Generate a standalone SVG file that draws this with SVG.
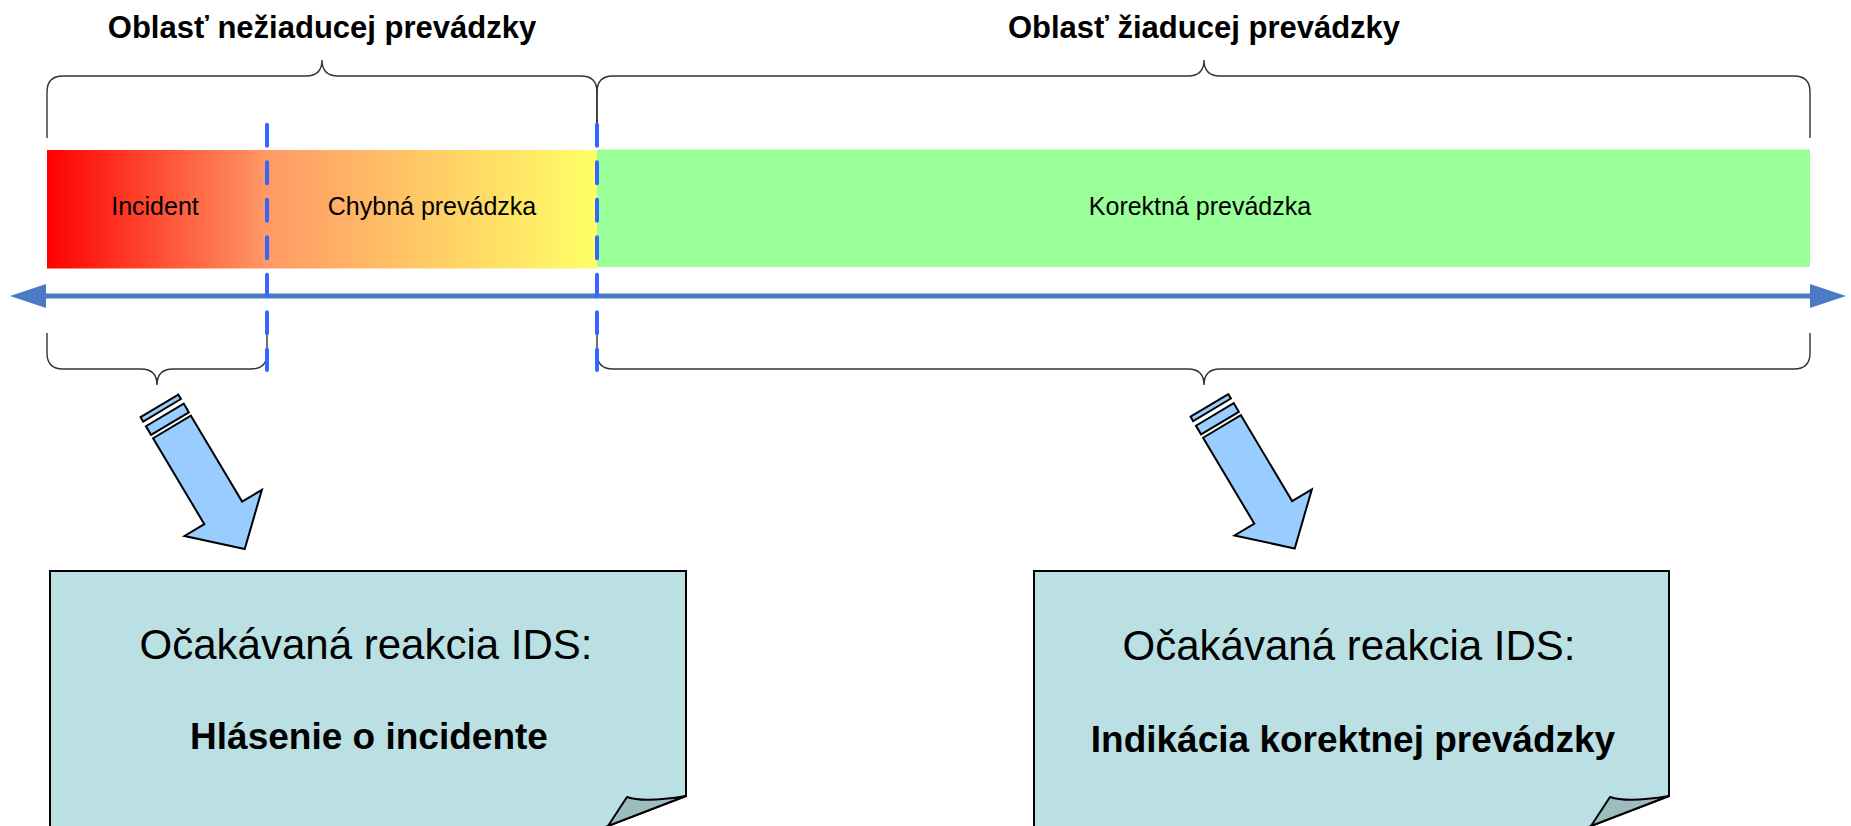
<svg xmlns="http://www.w3.org/2000/svg" width="1851" height="826" viewBox="0 0 1851 826">
<defs>
<linearGradient id="grad" x1="0" y1="0" x2="1" y2="0">
<stop offset="0" stop-color="#FF0000"/>
<stop offset="0.4" stop-color="#FF9966"/>
<stop offset="1" stop-color="#FFFF66"/>
</linearGradient>
<g id="bluearrow">
<rect x="-24.5" y="-22" width="5" height="44"/>
<rect x="-14" y="-22" width="10" height="44"/>
<polygon points="0,-22 100,-22 100,-45 142,0 100,45 100,22 0,22"/>
</g>
</defs>
<style>
.title{font-family:"Liberation Sans",Arial,sans-serif;font-weight:bold;font-size:31px;fill:#000;text-anchor:middle}
.band{font-family:"Liberation Sans",Arial,sans-serif;font-size:25px;fill:#000;text-anchor:middle}
.big{font-family:"Liberation Sans",Arial,sans-serif;font-size:42px;fill:#000;text-anchor:middle}
.bigb{font-family:"Liberation Sans",Arial,sans-serif;font-weight:bold;font-size:37px;fill:#000;text-anchor:middle}
.brace{fill:none;stroke:#333;stroke-width:1.4}
.dash{stroke:#3366FF;stroke-width:4;stroke-linecap:round;stroke-dasharray:21 16.5}
.axis{stroke:#4A7BC4;stroke-width:5}
.axhead{fill:#4A7BC4}
.box{fill:#BBE0E3;stroke:#000;stroke-width:2;stroke-linejoin:miter}
.flap{fill:#9CBCBF;stroke:#000;stroke-width:2;stroke-linejoin:round}
.barrow{fill:#99CCFF;stroke:#000;stroke-width:2;stroke-linejoin:miter}
</style>
<rect width="1851" height="826" fill="#fff"/>

<g id="titles">
<text class="title" x="322" y="38">Oblasť nežiaducej prevádzky</text>
<text class="title" x="1204" y="38">Oblasť žiaducej prevádzky</text>
</g>

<g id="band-undesired">
<rect x="47" y="150" width="550" height="118.5" fill="url(#grad)"/>
<text class="band" x="155" y="215">Incident</text>
<text class="band" x="432" y="215">Chybná prevádzka</text>
</g>
<g id="band-desired">
<rect x="597" y="149.5" width="1213" height="117.5" fill="#99FF99"/>
<text class="band" x="1200" y="215">Korektná prevádzka</text>
</g>

<g id="braces">
<path class="brace" d="M47,138 V92 Q47,76 63,76 H306 Q322,76 322,60 Q322,76 338,76 H581 Q597,76 597,92 V138"/>
<path class="brace" d="M597,138 V92 Q597,76 613,76 H1188 Q1204,76 1204,60 Q1204,76 1220,76 H1794 Q1810,76 1810,92 V138"/>
<path class="brace" d="M47,333 V353 Q47,369 63,369 H141 Q157,369 157,385 Q157,369 173,369 H251 Q267,369 267,353 V333"/>
<path class="brace" d="M597,333 V353 Q597,369 613,369 H1188 Q1204,369 1204,385 Q1204,369 1220,369 H1794 Q1810,369 1810,353 V333"/>
</g>

<g id="connectors">
<line class="axis" x1="44" y1="296" x2="1812" y2="296"/>
<polygon class="axhead" points="46,284 10,296 46,308"/>
<polygon class="axhead" points="1810,284 1846,296 1810,308"/>
<line class="dash" x1="267" y1="124.7" x2="267" y2="370"/>
<line class="dash" x1="597" y1="124.7" x2="597" y2="370"/>
<use href="#bluearrow" class="barrow" transform="translate(172,427) rotate(59.2)"/>
<use href="#bluearrow" class="barrow" transform="translate(1222,426.5) rotate(59.2)"/>
</g>

<g id="callout-left">
<path class="box" d="M50,830 V571 H686 V796 L597.4,830"/>
<path class="flap" d="M627,797 Q644,803 686,796 L608,826 Z"/>
<text class="big" x="366" y="659">Očakávaná reakcia IDS:</text>
<text class="bigb" x="369" y="749">Hlásenie o incidente</text>
</g>

<g id="callout-right">
<path class="box" d="M1034,830 V571 H1669 V796 L1580.5,830"/>
<path class="flap" d="M1610,797 Q1627,803 1669,796 L1591,826 Z"/>
<text class="big" x="1349" y="660">Očakávaná reakcia IDS:</text>
<text class="bigb" x="1353" y="752">Indikácia korektnej prevádzky</text>
</g>
</svg>
